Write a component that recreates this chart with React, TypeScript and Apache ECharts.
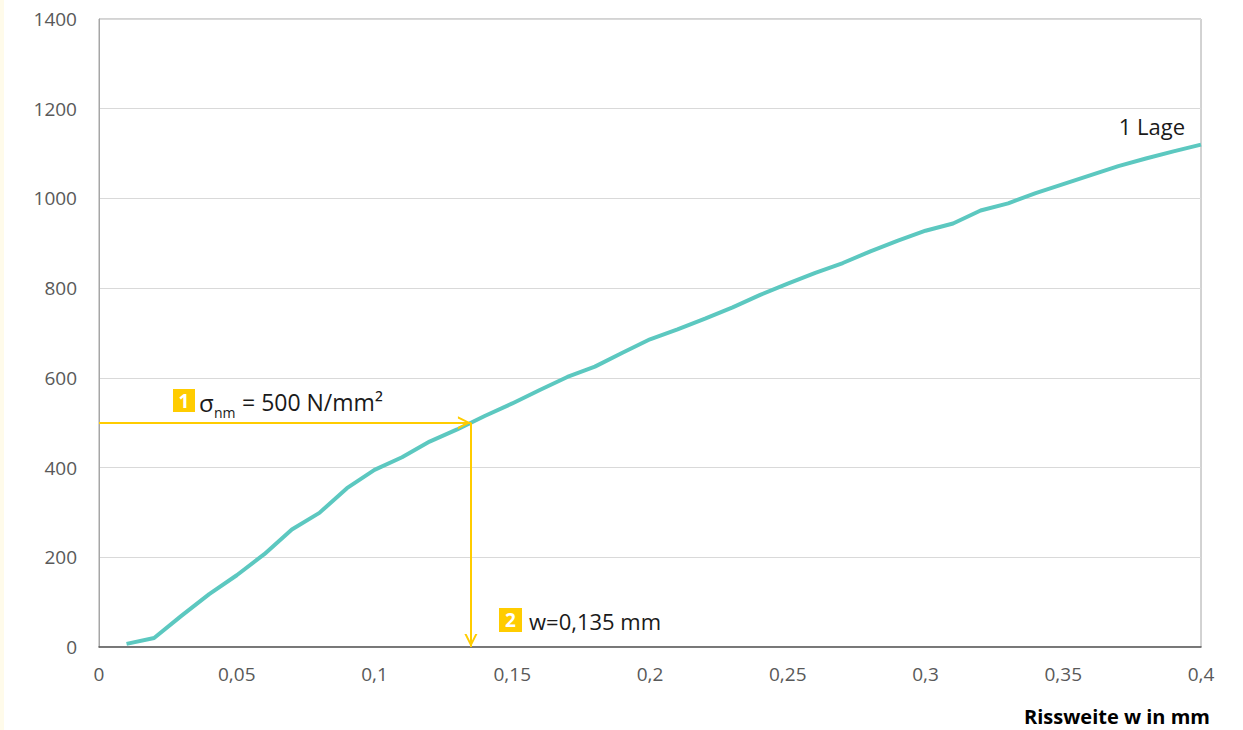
import React, { useEffect, useRef } from "react";
import * as echarts from "echarts";

const xValues = [0.01, 0.02, 0.03, 0.04, 0.05, 0.06, 0.07, 0.08, 0.09, 0.1, 0.11, 0.12, 0.13, 0.14, 0.15, 0.16, 0.17, 0.18, 0.19, 0.2, 0.21, 0.22, 0.23, 0.24, 0.25, 0.26, 0.27, 0.28, 0.29, 0.3, 0.31, 0.32, 0.33, 0.34, 0.35, 0.36, 0.37, 0.38, 0.39, 0.4];
const yValues = [7, 20, 70, 118, 160, 207, 262, 299, 354, 395, 423, 458, 485, 515, 543, 573, 602, 625, 656, 686, 708, 732, 757, 785, 810, 834, 856, 882, 906, 928, 944, 973, 989, 1012, 1032, 1052, 1072, 1089, 1105, 1120];

const seriesName = "1 Lage";
const targetStress = 500;
const targetWidth = 0.135;
const label1 = "= 500 N/mm²";
const label2 = "w=0,135 mm";
const xTitle = "Rissweite w in mm";

const FONT = "'Open Sans', 'Noto Sans', sans-serif";
const YELLOW = "#FFCC00";
const TEAL = "#5CC8C0";
// chevron with tip at the centre of its box (invisible dot extends the box beyond the tip)
const chevron = "path://M6,-11 L6.01,-11 L6.01,-10.99 Z M0,11 L6,0 L12,11 L10,11 L6,3.6 L2,11 Z";

export default function App() {
  const ref = useRef<HTMLDivElement>(null);
  useEffect(() => {
    if (!ref.current) return;
    const chart = echarts.init(ref.current, undefined, { renderer: "svg" });
    const fmt = (v: number) => String(+v.toFixed(2)).replace(".", ",");
    chart.setOption({
      animation: false,
      backgroundColor: "#ffffff",
      grid: {
        left: 99,
        right: 42,
        top: 19,
        bottom: 83,
        show: true,
        borderColor: "#A6A6A6",
        borderWidth: 1,
        backgroundColor: "transparent",
      },
      xAxis: {
        type: "value",
        min: 0,
        max: 0.4,
        interval: 0.05,
        axisLine: { show: true, lineStyle: { color: "#595959", width: 1.5 } },
        axisTick: { show: false },
        splitLine: { show: false },
        axisLabel: { color: "#595959", fontSize: 19, fontFamily: FONT, margin: 17, formatter: fmt },
      },
      yAxis: {
        type: "value",
        min: 0,
        max: 1400,
        interval: 200,
        axisLine: { show: true, lineStyle: { color: "#A6A6A6", width: 1 } },
        axisTick: { show: false },
        splitLine: { show: true, lineStyle: { color: "#D9D9D9", width: 1 } },
        axisLabel: { color: "#595959", fontSize: 19, fontFamily: FONT, margin: 22, formatter: (v: number) => String(v) },
      },
      series: [
        {
          name: seriesName,
          type: "line",
          data: xValues.map((x, i) => [x, yValues[i]]),
          showSymbol: false,
          symbol: "none",
          lineStyle: { color: TEAL, width: 4 },
          markLine: {
            silent: true,
            symbol: ["none", chevron],
            symbolSize: [13, 26],
            label: { show: false },
            lineStyle: { color: YELLOW, width: 2, type: "solid" },
            data: [
              [{ coord: [0, targetStress] }, { coord: [targetWidth, targetStress] }],
              [{ coord: [targetWidth, targetStress] }, { coord: [targetWidth, 0] }],
            ],
          },
        },
      ],
      graphic: [
        { type: "rect", left: 0, top: 0, shape: { x: 0, y: 0, width: 4, height: 730 }, style: { fill: "#FFFBEA" } },
        { type: "rect", shape: { x: 173, y: 389, width: 22, height: 23 }, style: { fill: YELLOW } },
        { type: "text", x: 184, y: 401, style: { text: "1", fill: "#fff", fontSize: 19, fontWeight: "bold", fontFamily: FONT, align: "center", verticalAlign: "middle" } },
        { type: "text", x: 199, y: 402, style: { text: "σ", fill: "#1a1a1a", fontSize: 24, fontFamily: FONT, align: "left", verticalAlign: "middle" } },
        { type: "text", x: 214, y: 412, style: { text: "nm", fill: "#1a1a1a", fontSize: 14, fontFamily: FONT, align: "left", verticalAlign: "middle" } },
        { type: "text", x: 242, y: 402, style: { text: label1, fill: "#1a1a1a", fontSize: 23, fontFamily: FONT, align: "left", verticalAlign: "middle" } },
        { type: "rect", shape: { x: 499, y: 608, width: 23, height: 24 }, style: { fill: YELLOW } },
        { type: "text", x: 510.5, y: 620, style: { text: "2", fill: "#fff", fontSize: 19, fontWeight: "bold", fontFamily: FONT, align: "center", verticalAlign: "middle" } },
        { type: "text", x: 529, y: 621, style: { text: label2, fill: "#1a1a1a", fontSize: 22, fontFamily: FONT, align: "left", verticalAlign: "middle" } },
        { type: "text", x: 1185, y: 126, style: { text: seriesName, fill: "#1a1a1a", fontSize: 22, fontFamily: FONT, align: "right", verticalAlign: "middle" } },
        { type: "text", x: 1210, y: 716, style: { text: xTitle, fill: "#000", fontSize: 20, fontWeight: "bold", fontFamily: FONT, align: "right", verticalAlign: "middle" } },
      ],
    });
    return () => chart.dispose();
  }, []);
  return <div ref={ref} style={{ position: "absolute", left: 0, top: 0, width: 1243, height: 730 }} />;
}
